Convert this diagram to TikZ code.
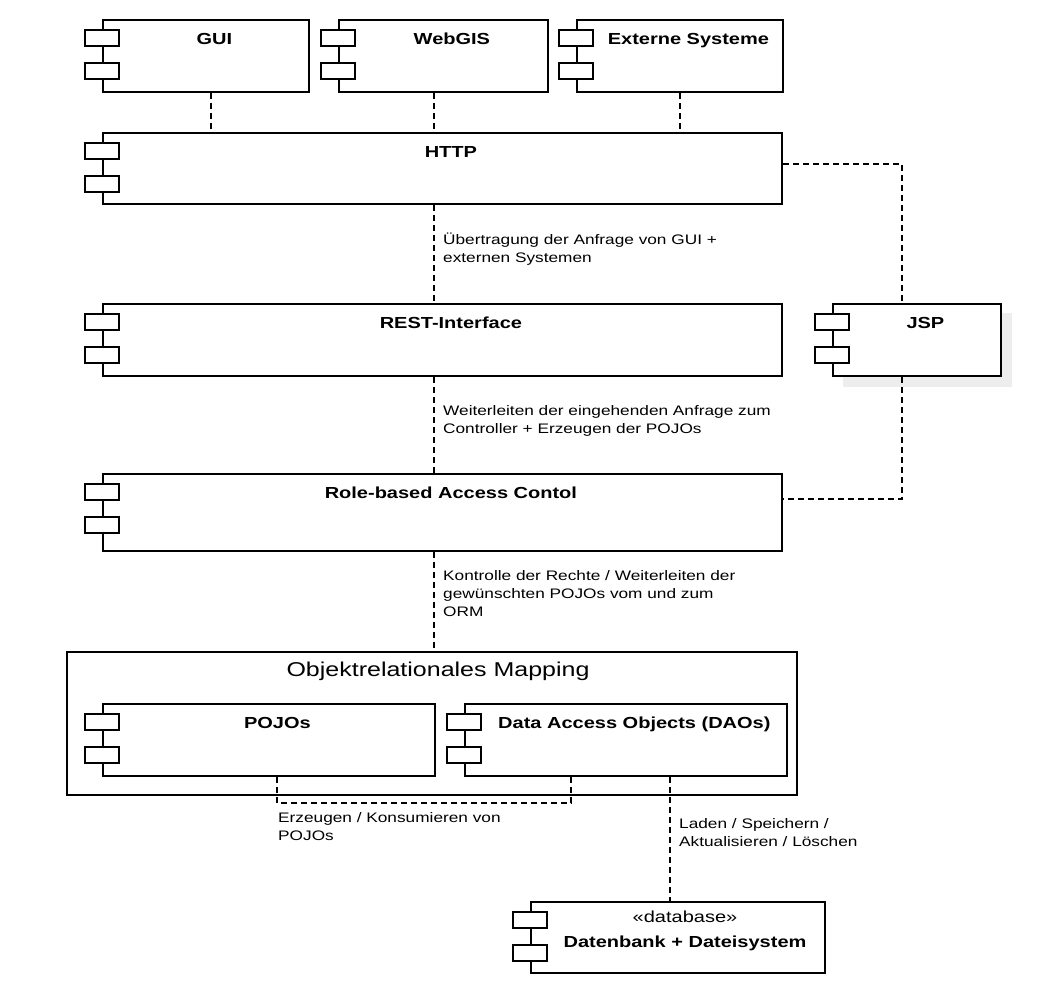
\documentclass[tikz,border=0pt]{standalone}
\usepackage{fontspec}
\setmainfont{Liberation Sans}[FakeStretch=1.25]
\usetikzlibrary{calc}
\tikzset{
  comp/.style={draw, line width=1.8pt, fill=white, inner sep=0pt, anchor=north west},
  tab/.style={draw, line width=1.6pt, fill=white},
  ttl/.style={inner sep=0pt, anchor=base, font=\fontsize{16}{19}\selectfont\bfseries},
  lbl/.style={inner sep=0pt, anchor=base west, align=left, font=\fontsize{13.8}{18}\selectfont},
  conn/.style={line width=1.6pt, dash pattern=on 6pt off 4pt},
}
\newcommand\comptabs[1]{%
  \draw[tab] ([shift={(-17pt,-11pt)}]#1.north west) rectangle ++(34pt,-16pt);
  \draw[tab] ([shift={(-17pt,-44pt)}]#1.north west) rectangle ++(34pt,-16pt);}
\newcommand\comptitle[3]{%
  \node[ttl] (#2) at ($(#1.north west)!0.5!(#1.north east)+(8.5pt,-25pt)$) {#3};}
\begin{document}
\begin{tikzpicture}[x=1pt,y=-1pt]
\useasboundingbox (0,0) rectangle (1042,996);
\fill[white] (0,0) rectangle (1042,996);

% top row
\node[comp, minimum width=206pt, minimum height=72pt] (gui) at (102,19) {};
\comptabs{gui}\comptitle{gui}{gui-t}{GUI}
\node[comp, minimum width=209pt, minimum height=72pt] (webgis) at (338,19) {};
\comptabs{webgis}\comptitle{webgis}{webgis-t}{WebGIS}
\node[comp, minimum width=206pt, minimum height=72pt] (ext) at (576,19) {};
\comptabs{ext}\comptitle{ext}{ext-t}{Externe Systeme}

% HTTP
\node[comp, minimum width=679pt, minimum height=71pt] (http) at (102,132) {};
\comptabs{http}\comptitle{http}{http-t}{HTTP}

% REST + JSP
\node[comp, minimum width=679pt, minimum height=72pt] (rest) at (102,303) {};
\comptabs{rest}\comptitle{rest}{rest-t}{REST-Interface}
\fill[black!7] (843,313) rectangle (1012,387);
\node[comp, minimum width=168pt, minimum height=72pt] (jsp) at (832,303) {};
\comptabs{jsp}\comptitle{jsp}{jsp-t}{JSP}

% RBAC
\node[comp, minimum width=679pt, minimum height=77pt] (rbac) at (102,473) {};
\comptabs{rbac}\comptitle{rbac}{rbac-t}{Role-based Access Contol}

% ORM package
\node[comp, minimum width=730pt, minimum height=143pt] (orm) at (66,651) {};
\node[inner sep=0pt, anchor=base, font=\fontsize{20}{24}\selectfont] (orm-t) at (438,676) {Objektrelationales Mapping};
\node[comp, minimum width=332pt, minimum height=72pt] (pojos) at (102,703) {};
\comptabs{pojos}\comptitle{pojos}{pojos-t}{POJOs}
\node[comp, minimum width=322pt, minimum height=72pt] (daos) at (464,703) {};
\comptabs{daos}\comptitle{daos}{daos-t}{Data Access Objects (DAOs)}

% Database
\node[comp, minimum width=294pt, minimum height=71pt] (db) at (530,901) {};
\comptabs{db}
\node[inner sep=0pt, anchor=base, font=\fontsize{16}{19}\selectfont] (db-s) at (685,922) {«database»};
\node[ttl] (db-t) at (685,947) {Datenbank + Dateisystem};

% connectors
\coordinate (spine) at (434,0);
\coordinate (c-gui) at ([xshift=109pt]gui.south west);
\draw[conn] (c-gui) -- (c-gui |- http.north);
\draw[conn] (webgis.south -| spine) -- (http.north -| spine);
\draw[conn] (ext.south) -- (ext.south |- http.north);
\draw[conn] (http.south -| spine) -- (rest.north -| spine);
\draw[conn] (rest.south -| spine) -- (rbac.north -| spine);
\draw[conn] (rbac.south -| spine) -- (orm.north -| spine);
\coordinate (h1) at ([yshift=-32pt]http.north east);
\coordinate (j1) at ([xshift=-15pt]jsp.north);
\coordinate (j2) at ([xshift=-15pt]jsp.south);
\coordinate (r1) at ([yshift=-26pt]rbac.north east);
\draw[conn] (h1) -| (j1);
\draw[conn] (j2) |- (r1);
\coordinate (p1) at ([xshift=175pt]pojos.south west);
\coordinate (d1) at ([xshift=107pt]daos.south west);
\draw[conn] (p1) -- ++(0,-26pt) -| (d1);
\coordinate (d2) at ([xshift=206pt]daos.south west);
\draw[conn] (d2) -- (d2 |- db.north);

% labels (base anchor = baseline of last line)
\node[lbl] (l-http) at (443,262) {Übertragung der Anfrage von GUI +\\externen Systemen};
\node[lbl] (l-rest) at (443,433) {Weiterleiten der eingehenden Anfrage zum\\Controller + Erzeugen der POJOs};
\node[lbl] (l-rbac) at (443,616) {Kontrolle der Rechte / Weiterleiten der\\gewünschten POJOs vom und zum\\ORM};
\node[lbl] (l-pojo) at (278,840) {Erzeugen / Konsumieren von\\POJOs};
\node[lbl] (l-dao) at (679,846) {Laden / Speichern /\\Aktualisieren / Löschen};
\end{tikzpicture}
\end{document}
